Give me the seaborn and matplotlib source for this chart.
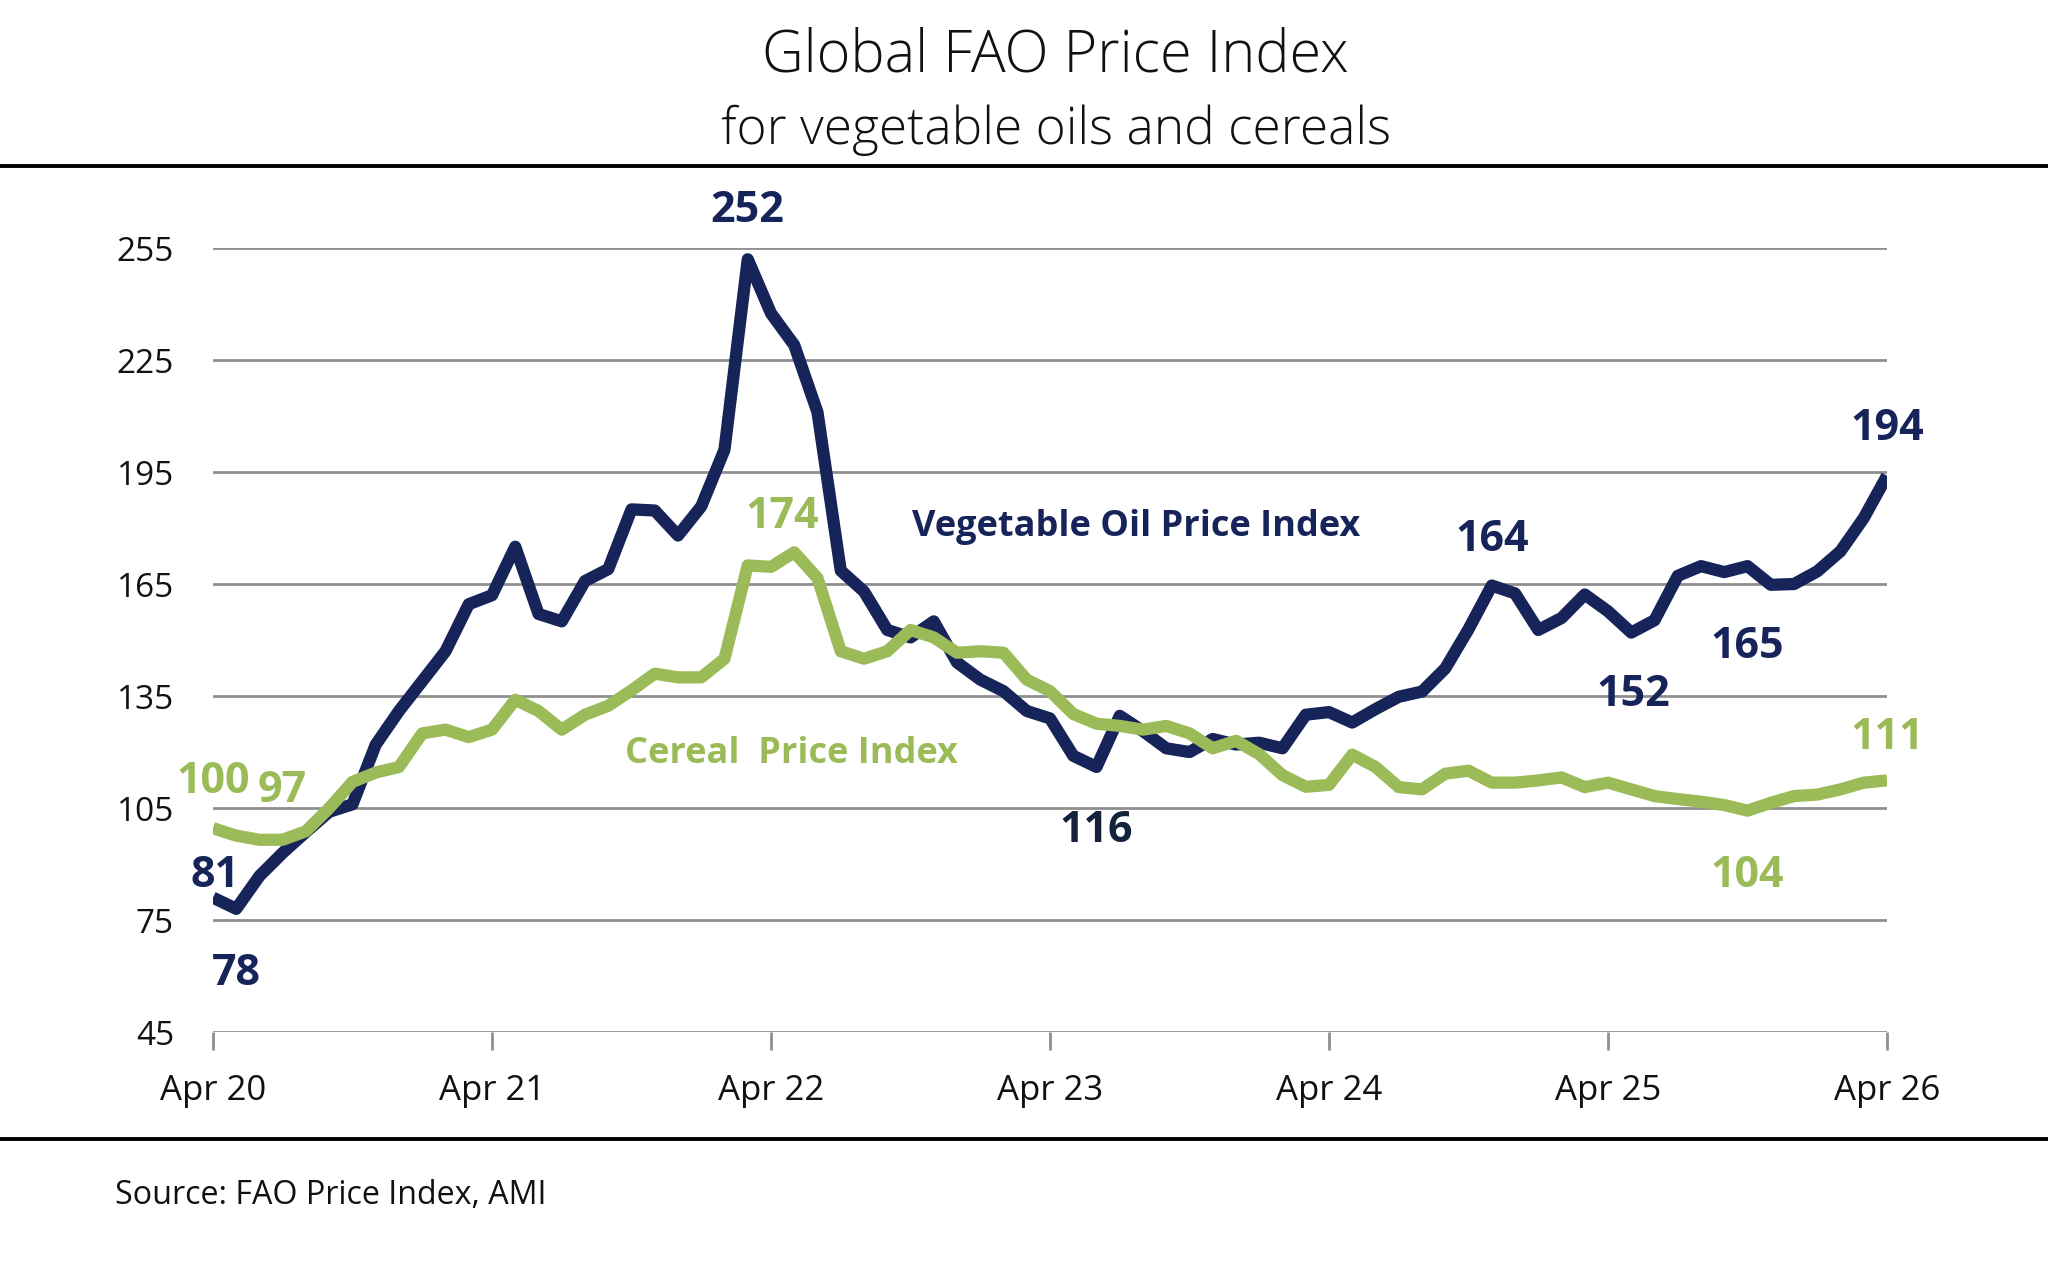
import numpy as np
import pandas as pd
import matplotlib.pyplot as plt
from matplotlib.lines import Line2D
import seaborn as sns

# monthly values, Apr 2020 .. Apr 2026
veg_oil = [81, 78, 86.8, 93, 98.6, 104, 106, 122, 131, 139, 147, 159.6,
           162, 175, 157, 155, 165.8, 169, 185, 184.7, 178, 185.8, 201, 252,
           237.5, 229, 211, 168.6, 163, 152.7, 150.7, 155, 144, 139.4, 136.3, 131,
           129, 119, 116, 129.7, 125.6, 121, 120, 123.5, 122, 122.5, 121, 130,
           130.7, 127.9, 131.5, 134.8, 136.2, 142.4, 152.9, 164.6, 162.5, 152.7, 155.9, 162.2,
           157.7, 152, 155.3, 167.2, 169.8, 168.2, 169.8, 164.8, 165, 168.4, 173.8, 182.7,
           194]
cereals = [99.6, 97.6, 96.5, 96.5, 98.8, 105, 112, 114.5, 116, 125, 126, 124,
           126, 134, 131, 126, 130, 132.4, 136.5, 141, 140, 140, 145, 170,
           169.6, 173.5, 166.6, 147, 145, 147, 152.7, 150.7, 146.6, 147, 146.6, 139.4,
           136.3, 130.2, 127.6, 127, 126, 127, 125, 121, 123, 119.4, 113.8, 110.7,
           111.2, 119.3, 116, 110.6, 110, 114.2, 115, 111.8, 111.8, 112.4, 113.2, 110.6,
           111.8, 110, 108.2, 107.4, 106.7, 105.8, 104.3, 106.4, 108.2, 108.6, 110, 111.8,
           112.4]
tick_labels = ['Apr 20', 'Apr 21', 'Apr 22', 'Apr 23', 'Apr 24', 'Apr 25', 'Apr 26']
y_ticks = [45, 75, 105, 135, 165, 195, 225, 255]

# (text, month index, value) for the callouts
veg_labels = [('252', 23.0, 265.0), ('194', 72.0, 206.6), ('164', 55.0, 176.8),
              ('165', 66.0, 148.4), ('152', 61.1, 135.3), ('81', 0.1, 87.0),
              ('78', 1.0, 60.8)]
cer_labels = [('100', 0.0, 112.2), ('97', 2.97, 109.8), ('174', 24.5, 183.0),
              ('111', 72.0, 123.8), ('104', 66.0, 87.0)]

NAVY = '#16245a'
GREEN = '#9bbb59'
GRID = '#8f8f8f'

sns.set_theme(style='white')
plt.rcParams['font.family'] = ['Open Sans', 'DejaVu Sans']

df = pd.DataFrame({'month': np.arange(len(veg_oil)), 'veg': veg_oil, 'cer': cereals})

fig = plt.figure(figsize=(20.48, 12.76), dpi=100)
ax = fig.add_axes([0.104, 0.1912, 0.8174, 0.6144])

sns.lineplot(data=df, x='month', y='veg', color=NAVY, linewidth=8.8, ax=ax,
             solid_joinstyle='round', solid_capstyle='butt')
sns.lineplot(data=df, x='month', y='cer', color=GREEN, linewidth=8.8, ax=ax,
             solid_joinstyle='round', solid_capstyle='butt')

ax.set_xlim(0, len(veg_oil) - 1)
ax.set_ylim(45, 255)
ax.set_yticks(y_ticks)
ax.set_yticklabels([str(v) for v in y_ticks])
ax.set_xticks(np.arange(0, len(veg_oil), 12))
ax.set_xticklabels(tick_labels)
ax.set_xlabel('')
ax.set_ylabel('')
for s in ax.spines.values():
    s.set_visible(False)
ax.grid(axis='y', color=GRID, linewidth=2)
ax.set_axisbelow(True)
ax.tick_params(axis='y', length=0, pad=28, labelsize=24, labelcolor='#111111')
ax.tick_params(axis='x', length=13, width=2, color=GRID, direction='out', pad=17,
               labelsize=25, labelcolor='#111111', bottom=True)

for txt, x, y in veg_labels:
    ax.text(x, y, txt, color=NAVY, fontsize=31, fontweight='bold', ha='center', va='center')
ax.text(38.0, 99.1, '116', color='#13233b', fontsize=31, fontweight='bold', ha='center', va='center')
for txt, x, y in cer_labels:
    ax.text(x, y, txt, color=GREEN, fontsize=31, fontweight='bold', ha='center', va='center')

ax.text(39.7, 180.2, 'Vegetable Oil Price Index', color=NAVY, fontsize=26,
        fontweight='bold', ha='center', va='center')
ax.text(24.9, 119.6, 'Cereal  Price Index', color=GREEN, fontsize=26,
        fontweight='bold', ha='center', va='center')

# title block and frame lines
fig.text(0.5155, 1 - 56 / 1276, 'Global FAO Price Index', fontsize=41.5, fontweight='light',
         ha='center', va='center', color='#111111')
fig.text(0.5155, 1 - 130 / 1276, 'for vegetable oils and cereals', fontsize=37, fontweight='light',
         ha='center', va='center', color='#111111')
fig.add_artist(Line2D([0, 1], [1 - 166 / 1276] * 2, color='black', linewidth=2.8,
                      transform=fig.transFigure))
fig.add_artist(Line2D([0, 1], [1 - 1139 / 1276] * 2, color='black', linewidth=2.8,
                      transform=fig.transFigure))
fig.text(115 / 2048, 1 - 1196 / 1276, 'Source: FAO Price Index, AMI', fontsize=23.2,
         ha='left', va='center', color='#111111')

fig.savefig('out.png', dpi=100, facecolor='white')
